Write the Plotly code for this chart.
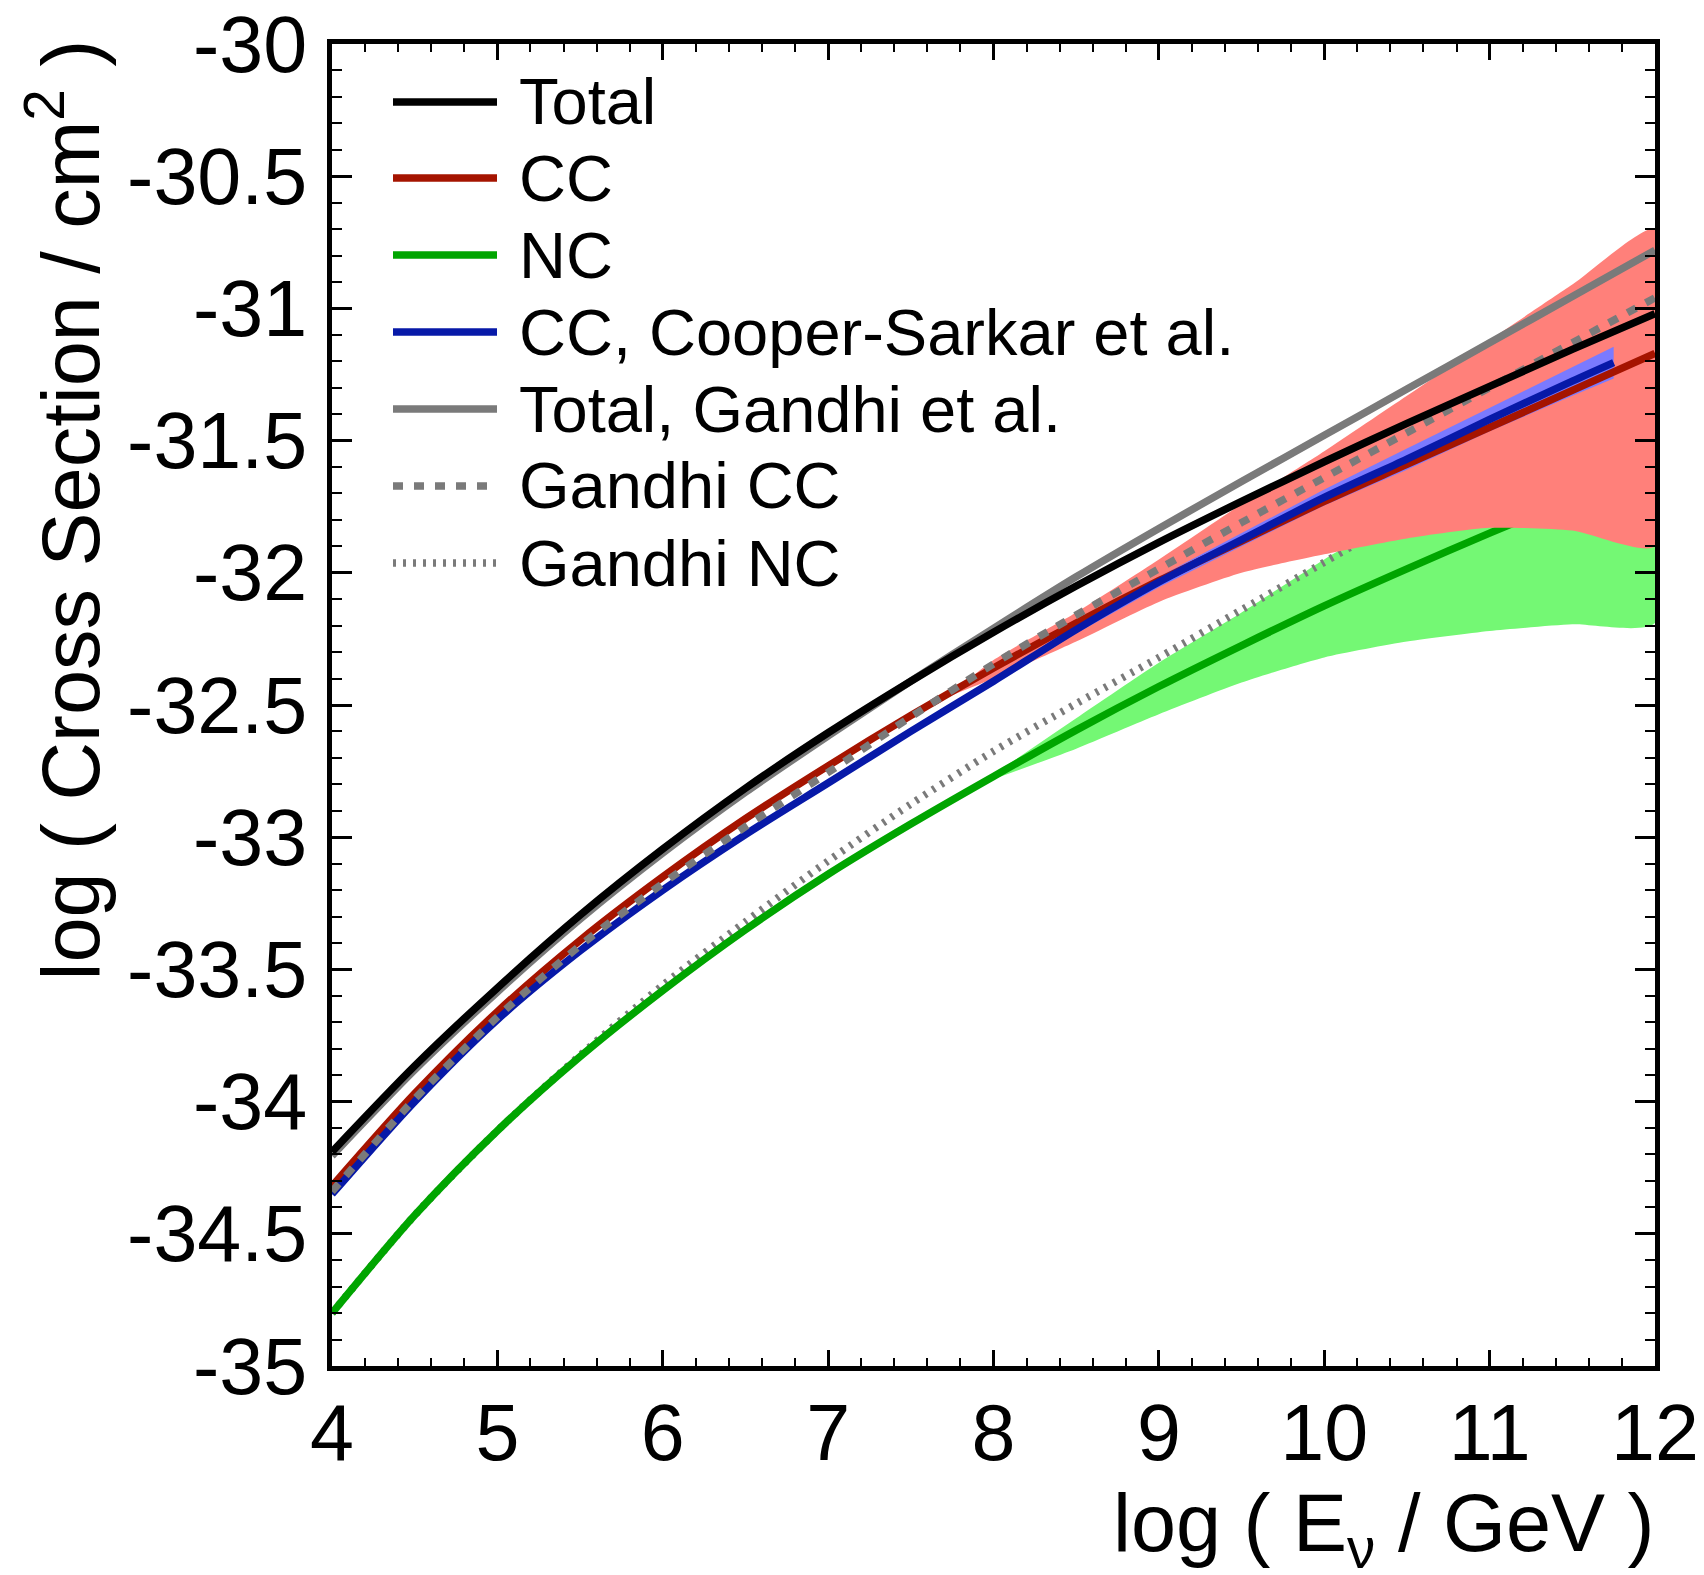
import plotly.graph_objects as go

# ---------------- data ----------------
x_main = [4.0, 4.5, 5.0, 5.5, 6.0, 6.5, 7.0, 7.5, 8.0, 8.5, 9.0, 9.5, 10.0, 10.5, 11.0, 11.5, 12.0]
total = [-34.19, -33.865, -33.57, -33.295, -33.045, -32.815, -32.605, -32.41, -32.225, -32.05, -31.885, -31.73, -31.58, -31.435, -31.295, -31.155, -31.02]
cc = [-34.32, -33.97, -33.66, -33.39, -33.15, -32.93, -32.73, -32.54, -32.36, -32.19, -32.03, -31.88, -31.73, -31.59, -31.45, -31.31, -31.17]
nc = [-34.80, -34.43, -34.11, -33.83, -33.58, -33.35, -33.14, -32.95, -32.77, -32.595, -32.43, -32.275, -32.125, -31.985, -31.85, -31.72, -31.595]
gandhi_total = [-34.205, -33.88, -33.585, -33.31, -33.06, -32.83, -32.617, -32.41, -32.21, -32.015, -31.832, -31.655, -31.48, -31.305, -31.13, -30.955, -30.78]
gandhi_cc = [-34.34, -33.99, -33.68, -33.41, -33.175, -32.96, -32.755, -32.545, -32.345, -32.16, -31.985, -31.81, -31.64, -31.47, -31.30, -31.13, -30.96]
gandhi_nc = [-34.80, -34.43, -34.11, -33.825, -33.56, -33.32, -33.09, -32.875, -32.675, -32.495, -32.32, -32.14, -31.96, -31.78, -31.60, -31.42, -31.24]

x_cs = [4.0, 4.5, 5.0, 5.5, 6.0, 6.5, 7.0, 7.5, 8.0, 8.5, 9.0, 9.5, 10.0, 10.5, 11.0, 11.5, 11.75]
cc_cooper = [-34.35, -34.00, -33.69, -33.43, -33.20, -32.99, -32.795, -32.60, -32.41, -32.215, -32.035, -31.875, -31.715, -31.57, -31.42, -31.275, -31.205]

# uncertainty bands
x_cc_band = [7.76, 8.0, 8.5, 9.0, 9.5, 10.0, 10.5, 11.0, 11.5, 12.0]
cc_band_hi = [-32.45, -32.33, -32.15, -31.95, -31.74, -31.54, -31.33, -31.12, -30.91, -30.70]
cc_band_lo = [-32.46, -32.40, -32.26, -32.11, -32.00, -31.93, -31.87, -31.83, -31.84, -31.90]

x_nc_band = [7.96, 8.5, 9.0, 9.5, 10.0, 10.5, 11.0, 11.5, 12.0]
nc_band_hi = [-32.78, -32.55, -32.34, -32.15, -31.95, -31.76, -31.52, -31.28, -31.02]
nc_band_lo = [-32.79, -32.665, -32.535, -32.415, -32.32, -32.26, -32.22, -32.195, -32.19]

x_cs_band = [8.0, 8.5, 9.0, 9.5, 10.0, 10.5, 11.0, 11.5, 11.75]
cs_band_hi = [-32.40, -32.20, -32.015, -31.85, -31.685, -31.53, -31.375, -31.22, -31.145]
cs_band_lo = [-32.42, -32.23, -32.055, -31.90, -31.745, -31.61, -31.465, -31.33, -31.265]

x_ticks = [4, 5, 6, 7, 8, 9, 10, 11, 12]
x_ticktext = ["4", "5", "6", "7", "8", "9", "10", "11", "12"]
y_ticks = [-30, -30.5, -31, -31.5, -32, -32.5, -33, -33.5, -34, -34.5, -35]
y_ticktext = ["-30", "-30.5", "-31", "-31.5", "-32", "-32.5", "-33", "-33.5", "-34", "-34.5", "-35"]

legend_labels = ["Total", "CC", "NC", "CC, Cooper-Sarkar et al.", "Total, Gandhi et al.", "Gandhi CC", "Gandhi NC"]

# ---------------- styles ----------------
FONT = "Liberation Sans"
C_BLACK = "#000000"
C_RED = "#A51400"
C_GREEN = "#00A500"
C_BLUE = "#0719A8"
C_GRAY = "#7A7A7A"
F_RED = "#FF807A"
F_GREEN = "#74F874"
F_BLUE = "#7A7AFF"
LW = 7.5
DASH = "10px,11px"
DOT = "3px,7px"

W, H = 1704, 1575
L, R, T, B = 332, 49, 44, 209
PW, PH = W - L - R, H - T - B


def band(x, lo, hi, color, smooth=True):
    return go.Scatter(x=list(x) + list(x)[::-1], y=list(hi) + list(lo)[::-1],
                      fill="toself", fillcolor=color, mode="lines",
                      line=dict(width=0, color=color,
                                shape="spline" if smooth else "linear", smoothing=0.6),
                      hoverinfo="skip", showlegend=False)


def curve(x, y, color, dash="solid", name=""):
    return go.Scatter(x=x, y=y, mode="lines", name=name,
                      line=dict(color=color, width=LW, dash=dash, shape="spline", smoothing=0.8),
                      showlegend=False)


fig = go.Figure()
fig.add_trace(band(x_nc_band, nc_band_lo, nc_band_hi, F_GREEN))
fig.add_trace(curve(x_main, gandhi_nc, C_GRAY, DOT, legend_labels[6]))
fig.add_trace(curve(x_main, nc, C_GREEN, name=legend_labels[2]))
fig.add_trace(band(x_cc_band, cc_band_lo, cc_band_hi, F_RED))
fig.add_trace(band(x_cs_band, cs_band_lo, cs_band_hi, F_BLUE, smooth=False))
fig.add_trace(curve(x_main, cc, C_RED, name=legend_labels[1]))
fig.add_trace(curve(x_cs, cc_cooper, C_BLUE, name=legend_labels[3]))
fig.add_trace(curve(x_main, gandhi_total, C_GRAY, name=legend_labels[4]))
fig.add_trace(curve(x_main, gandhi_cc, C_GRAY, DASH, name=legend_labels[5]))
fig.add_trace(curve(x_main, total, C_BLACK, name=legend_labels[0]))


def px_x(px):
    return (px - L) / PW


def px_y(py):
    return 1 - (py - T) / PH


# custom ROOT-style legend
leg_colors = [C_BLACK, C_RED, C_GREEN, C_BLUE, C_GRAY, C_GRAY, C_GRAY]
leg_dash = ["solid", "solid", "solid", "solid", "solid", DASH, DOT]
leg_y = [102, 178, 255, 332, 409, 486, 563]
shapes = []
annotations = []
for lab, col, ds, yy in zip(legend_labels, leg_colors, leg_dash, leg_y):
    shapes.append(dict(type="line", xref="paper", yref="paper",
                       x0=px_x(393), x1=px_x(497), y0=px_y(yy), y1=px_y(yy),
                       line=dict(color=col, width=LW, dash=ds)))
    annotations.append(dict(text=lab, xref="paper", yref="paper", x=px_x(517), y=px_y(yy),
                            xanchor="left", yanchor="middle", showarrow=False,
                            font=dict(family=FONT, size=65, color="black")))

# axis titles (right-aligned, ROOT style)
annotations.append(dict(text="log ( E<sub>ν</sub> / GeV )", xref="paper", yref="paper",
                        x=1.0, y=0.0, xanchor="right", yanchor="top", yshift=-110, xshift=2,
                        showarrow=False, font=dict(family=FONT, size=81, color="black")))
annotations.append(dict(text="log ( Cross Section / cm<sup>2</sup> )", xref="paper", yref="paper",
                        x=px_x(64), y=1.0, xanchor="center", yanchor="top", textangle=-90, yshift=6,
                        showarrow=False, font=dict(family=FONT, size=81, color="black")))

axis_common = dict(showline=True, linewidth=5, linecolor="black", mirror="allticks",
                   ticks="inside", tickcolor="black", tickwidth=2.5,
                   showgrid=False, zeroline=False, ticklabeloverflow="allow", automargin=False,
                   tickfont=dict(family=FONT, size=79, color="black"))

fig.update_layout(
    width=W, height=H,
    margin=dict(l=L, r=R, t=T, b=B, autoexpand=False),
    paper_bgcolor="white", plot_bgcolor="white",
    showlegend=False,
    shapes=shapes, annotations=annotations,
    xaxis=dict(range=[4, 12], tickmode="array", tickvals=x_ticks, ticktext=x_ticktext,
               ticklen=16, ticklabelstandoff=-6,
               minor=dict(dtick=0.2, tick0=4, ticks="inside", ticklen=8, tickwidth=2,
                          tickcolor="black", showgrid=False),
               **axis_common),
    yaxis=dict(range=[-35, -30], tickmode="array", tickvals=y_ticks, ticktext=y_ticktext,
               ticklen=20, ticklabelstandoff=4,
               minor=dict(dtick=0.1, tick0=-35, ticks="inside", ticklen=10, tickwidth=2,
                          tickcolor="black", showgrid=False),
               **axis_common),
)

fig.write_html("out.html")
